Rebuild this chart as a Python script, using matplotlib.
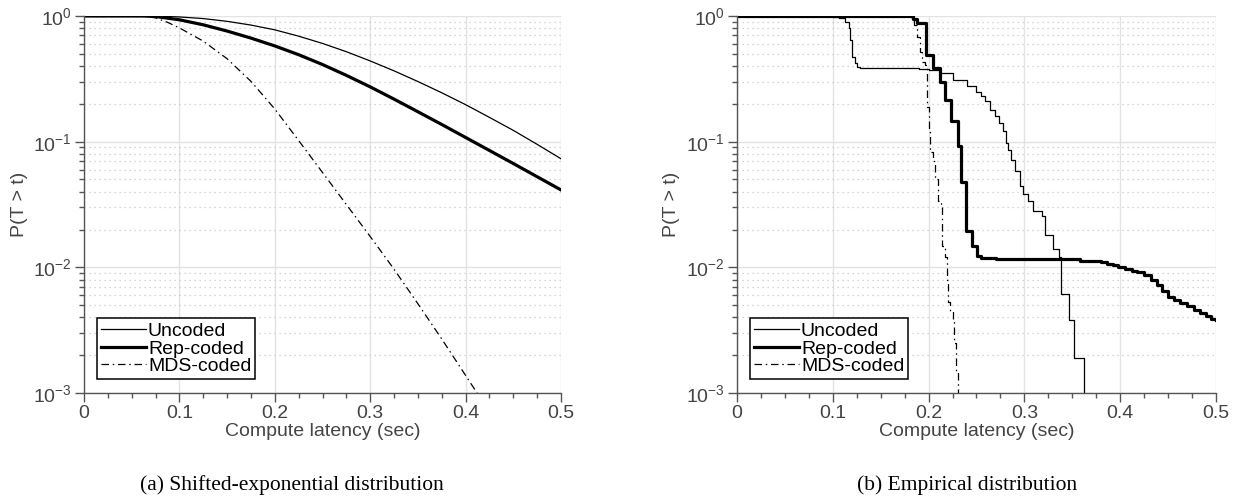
import numpy as np
import matplotlib
matplotlib.use('Agg')
import matplotlib.pyplot as plt
from matplotlib.ticker import AutoMinorLocator, LogLocator, NullFormatter

plt.rcParams['font.family'] = ['Liberation Sans', 'DejaVu Sans']
plt.rcParams['mathtext.default'] = 'regular'

# (a) shifted-exponential model
t_exp = [0, 0.025, 0.05, 0.0625, 0.075, 0.1, 0.125, 0.15, 0.175, 0.2, 0.225,
         0.25, 0.275, 0.3, 0.325, 0.35, 0.375, 0.4, 0.425, 0.45, 0.475, 0.5]
uncoded_exp = [1, 1, 1, 0.9993, 0.997, 0.983, 0.954, 0.907, 0.847, 0.776, 0.691,
               0.605, 0.520, 0.439, 0.366, 0.301, 0.245, 0.197, 0.156, 0.123, 0.0952, 0.0731]
rep_exp = [1, 1, 1, 1, 0.991, 0.933, 0.851, 0.759, 0.667, 0.578, 0.492,
           0.411, 0.337, 0.273, 0.218, 0.173, 0.137, 0.108, 0.0851, 0.0670, 0.0526, 0.0413]
t_mds_exp = [0, 0.05, 0.0625, 0.075, 0.0875, 0.1, 0.125, 0.15, 0.175, 0.2, 0.225,
             0.25, 0.275, 0.3, 0.325, 0.35, 0.375, 0.4, 0.415]
mds_exp = [1, 1, 1, 0.966, 0.891, 0.804, 0.631, 0.457, 0.302, 0.182, 0.102,
           0.0569, 0.0316, 0.0176, 0.00966, 0.00513, 0.00269, 0.00138, 0.000923]

# (b) empirical CCDFs (step starts and the value after each step)
t_unc_emp = [0, 0.1007, 0.106, 0.113, 0.117, 0.118, 0.1205, 0.123, 0.125, 0.128,
             0.15, 0.17, 0.19, 0.2, 0.212, 0.225, 0.24, 0.25, 0.255, 0.259, 0.264,
             0.269, 0.274, 0.278, 0.281, 0.283, 0.286, 0.29, 0.295, 0.2986, 0.304,
             0.309, 0.318, 0.321, 0.33, 0.336, 0.3386, 0.347, 0.352, 0.362, 0.5]
unc_emp = [1, 0.99, 0.97, 0.90, 0.80, 0.645, 0.475, 0.42, 0.395, 0.389,
           0.387, 0.384, 0.378, 0.373, 0.35, 0.31, 0.275, 0.25, 0.232, 0.209, 0.18,
           0.159, 0.141, 0.122, 0.098, 0.086, 0.072, 0.058, 0.044, 0.038, 0.034,
           0.028, 0.0256, 0.018, 0.0139, 0.012, 0.0061, 0.0038, 0.0019, 1e-5, 1e-5]
t_rep_emp = [0, 0.184, 0.188, 0.197, 0.2047, 0.2117, 0.2169, 0.2239, 0.2308, 0.2343,
             0.2395, 0.2457, 0.2506, 0.255, 0.27, 0.358, 0.38, 0.386, 0.392, 0.398,
             0.405, 0.412, 0.418, 0.425, 0.432, 0.438, 0.444, 0.45, 0.456, 0.462,
             0.47, 0.477, 0.483, 0.49, 0.495, 0.5]
rep_emp = [1, 0.95, 0.875, 0.49, 0.385, 0.30, 0.216, 0.145, 0.093, 0.048,
           0.0194, 0.0149, 0.0123, 0.0118, 0.01157, 0.0113, 0.0111, 0.0107, 0.0104, 0.0101,
           0.0097, 0.0094, 0.0091, 0.0087, 0.0080, 0.0072, 0.0065, 0.0058, 0.0055, 0.0052,
           0.0049, 0.0046, 0.0043, 0.0041, 0.0039, 0.0038]
t_mds_emp = [0, 0.182, 0.185, 0.188, 0.191, 0.193, 0.196, 0.198, 0.2, 0.201, 0.2047,
             0.207, 0.21, 0.2125, 0.2145, 0.217, 0.2193, 0.22, 0.2225, 0.225, 0.227,
             0.229, 0.231, 0.5]
mds_emp = [1, 0.97, 0.85, 0.68, 0.52, 0.43, 0.41, 0.19, 0.12, 0.082, 0.070,
           0.05, 0.034, 0.03, 0.0148, 0.012, 0.008, 0.0053, 0.0045, 0.0038, 0.0025,
           0.0015, 1e-5, 1e-5]

labels = ['Uncoded', 'Rep-coded', 'MDS-coded']
captions = ['(a) Shifted-exponential distribution', '(b) Empirical distribution']

gray = '#555555'
dashdot = (0, (6, 3, 1.2, 3))

fig = plt.figure(figsize=(12.42, 5), dpi=100)
ax1 = fig.add_axes([84 / 1242, 107 / 500, 477 / 1242, 377 / 500])
ax2 = fig.add_axes([737 / 1242, 107 / 500, 479 / 1242, 377 / 500])

ax1.plot(t_exp, uncoded_exp, color='k', lw=0.9, label=labels[0])
ax1.plot(t_exp, rep_exp, color='k', lw=2.3, label=labels[1])
ax1.plot(t_mds_exp, mds_exp, color='k', lw=0.9, ls=dashdot, label=labels[2])

ax2.plot(t_unc_emp, unc_emp, color='k', lw=0.9, drawstyle='steps-post', label=labels[0])
ax2.plot(t_rep_emp, rep_emp, color='k', lw=2.3, drawstyle='steps-post', label=labels[1])
ax2.plot(t_mds_emp, mds_emp, color='k', lw=0.9, ls=dashdot, drawstyle='steps-post', label=labels[2])

for ax, cap, cx in zip([ax1, ax2], captions, [292, 967]):
    ax.set_yscale('log')
    ax.set_xlim(0, 0.5)
    ax.set_ylim(1e-3, 1)
    ax.set_xticks([0, 0.1, 0.2, 0.3, 0.4, 0.5])
    ax.set_xticklabels(['0', '0.1', '0.2', '0.3', '0.4', '0.5'])
    ax.xaxis.set_minor_locator(AutoMinorLocator(4))
    ax.yaxis.set_major_locator(LogLocator(base=10, numticks=10))
    ax.yaxis.set_minor_locator(LogLocator(base=10, subs=np.arange(2, 10), numticks=10))
    ax.yaxis.set_minor_formatter(NullFormatter())
    ax.spines['top'].set_visible(False)
    ax.spines['right'].set_visible(False)
    for s in ['left', 'bottom']:
        ax.spines[s].set_color(gray)
        ax.spines[s].set_linewidth(1.0)
    ax.tick_params(which='major', direction='out', length=6.5, width=1.0,
                   color=gray, labelcolor='#444444', labelsize=14, pad=2)
    ax.tick_params(which='minor', direction='out', length=3.5, width=1.0, color=gray)
    ax.grid(which='major', color='#e3e3e3', lw=1.0, ls='-')
    ax.yaxis.grid(which='minor', color='#c8c8c8', lw=0.9, ls=(0, (1, 3)))
    ax.set_axisbelow(True)
    ax.set_xlabel('Compute latency (sec)', fontsize=14, color='#444444', labelpad=1)
    ax.set_ylabel('P(T > t)', fontsize=14, color='#444444')
    ax.yaxis.set_label_coords(-0.118, 0.5)
    leg = ax.legend(loc='lower left', bbox_to_anchor=(13 / 477, 14 / 377),
                    borderaxespad=0, fancybox=False, framealpha=1, fontsize=14,
                    handlelength=2.3, handletextpad=0.12, labelspacing=0.0,
                    borderpad=0.2)
    leg.get_frame().set_edgecolor('k')
    leg.get_frame().set_linewidth(1.1)
    fig.text(cx / 1242, 1 - 485 / 500, cap, ha='center', va='center',
             fontsize=15.5, family='Liberation Serif')

fig.savefig('out.png', dpi=100)
